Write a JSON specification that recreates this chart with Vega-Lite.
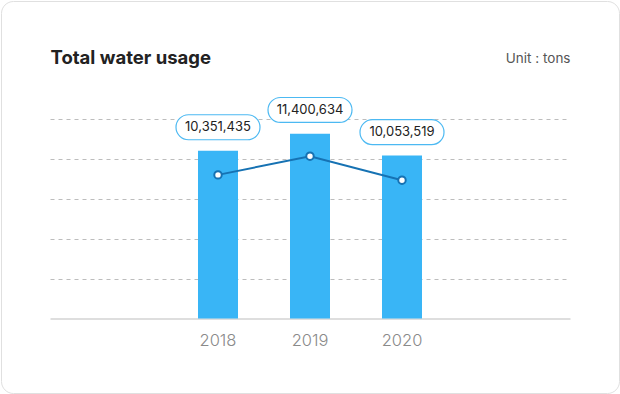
{
  "$schema": "https://vega.github.io/schema/vega-lite/v6.json",
  "width": 618,
  "height": 392,
  "autosize": "none",
  "padding": 1,
  "background": "#ffffff",
  "config": {
    "view": {"stroke": "#e0e0e0", "strokeWidth": 1, "cornerRadius": 12, "fill": "#ffffff"},
    "font": "Inter"
  },
  "data": {
    "values": [
      {"year": "2018", "usage": 10351435},
      {"year": "2019", "usage": 11400634},
      {"year": "2020", "usage": 10053519}
    ]
  },
  "encoding": {
    "x": {
      "field": "year",
      "type": "ordinal",
      "scale": {
        "domain": ["2017", "2018", "2019", "2020", "2021"],
        "range": [49, 569],
        "paddingInner": 0.5652,
        "paddingOuter": 0.6087
      },
      "axis": {
        "title": "Total water usage",
        "titleX": 49,
        "titleY": -255.5,
        "titleAlign": "left",
        "titleAnchor": "start",
        "titleBaseline": "alphabetic",
        "titleFontSize": 18.5,
        "titleFontWeight": "bold",
        "titleColor": "#222222",
        "offset": -74.5,
        "domainColor": "#bdbdbd",
        "domainWidth": 1,
        "ticks": false,
        "grid": false,
        "labelPadding": 14,
        "labelFontSize": 16.5,
        "labelFontWeight": 300,
        "labelColor": "#8a8a8a",
        "labelAngle": 0,
        "labelExpr": "datum.value == '2017' || datum.value == '2021' ? '' : datum.label"
      }
    }
  },
  "layer": [
    {
      "mark": {"type": "bar", "color": "#39b5f6"},
      "encoding": {
        "y": {
          "field": "usage",
          "type": "quantitative",
          "scale": {"domain": [0, 12334000], "range": [317.5, 117.5], "nice": false},
          "axis": {
            "title": "Unit : tons",
            "titleAngle": 0,
            "titleX": 569,
            "titleY": 61,
            "titleAlign": "right",
            "titleBaseline": "alphabetic",
            "titleFontSize": 13.5,
            "titleFontWeight": "normal",
            "titleColor": "#555555",
            "labels": false,
            "ticks": false,
            "domain": false,
            "grid": true,
            "gridColor": "#bdbdbd",
            "gridDash": [4, 4],
            "values": [2466800, 4933600, 7400400, 9867200, 12334000]
          }
        }
      }
    },
    {
      "mark": {
        "type": "line",
        "color": "#1672b3",
        "strokeWidth": 2,
        "point": {"filled": true, "fill": "#ffffff", "stroke": "#1672b3", "strokeWidth": 2, "size": 55, "opacity": 1}
      },
      "encoding": {
        "y": {
          "field": "usage",
          "type": "quantitative",
          "scale": {"domain": [2297000, 13514000], "range": [317.5, 117.5], "nice": false, "zero": false},
          "axis": null
        }
      }
    },
    {
      "encoding": {
        "y": {
          "field": "usage",
          "type": "quantitative",
          "scale": {"domain": [-1260000, 10883000], "range": [317.5, 117.5], "nice": false, "zero": false},
          "axis": null
        }
      },
      "layer": [
        {
          "mark": {
            "type": "point",
            "shape": "M -0.7024,-0.2976 L 0.7024,-0.2976 A 0.2976,0.2976 0 0 1 0.7024,0.2976 L -0.7024,0.2976 A 0.2976,0.2976 0 0 1 -0.7024,-0.2976 Z",
            "size": 7056,
            "filled": true,
            "fill": "#ffffff",
            "stroke": "#4cb9f2",
            "strokeWidth": 1.2,
            "opacity": 1
          }
        },
        {
          "mark": {"type": "text", "fontSize": 13, "color": "#222222", "baseline": "middle", "align": "center"},
          "encoding": {
            "text": {"field": "usage", "type": "quantitative", "format": ","}
          }
        }
      ]
    }
  ],
  "resolve": {"scale": {"y": "independent"}}
}
